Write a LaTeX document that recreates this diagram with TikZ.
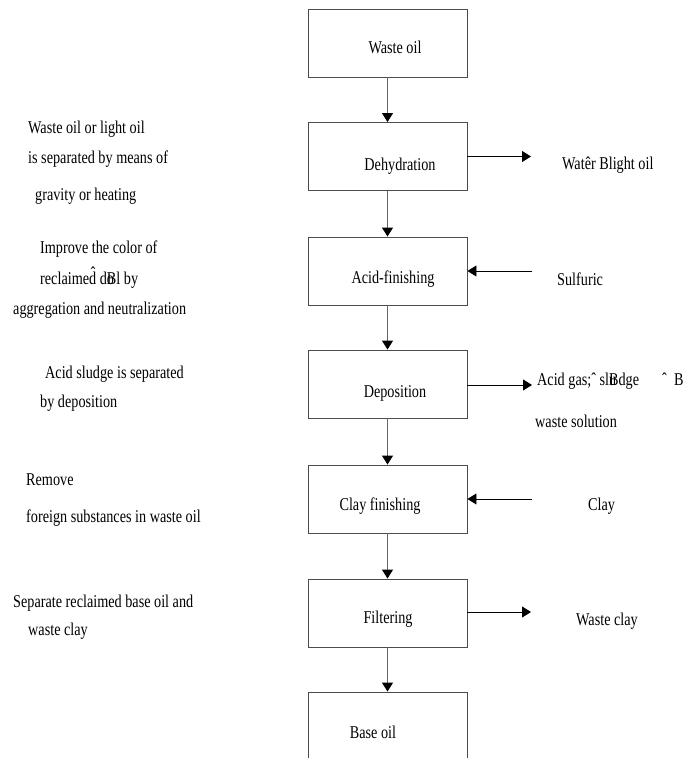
\documentclass[tikz,border=0pt]{standalone}
\usepackage{fontspec}
\setmainfont{Liberation Serif}[FakeStretch=0.79]
\usetikzlibrary{arrows.meta}
\begin{document}
\begin{tikzpicture}[x=1pt,y=-1pt,
  font=\fontsize{18}{21}\selectfont,
  stage/.style={draw=black!70, line width=0.9pt, minimum width=159pt, minimum height=68pt, inner sep=0pt},
  flow/.style={draw=black!60, line width=1pt, -{Triangle[length=9pt,width=11pt,color=black]}},
  side/.style={draw=black, line width=0.9pt, -{Triangle[length=9pt,width=11pt]}},
  lbl/.style={anchor=base, inner sep=0pt},
  note/.style={anchor=base west, inner sep=0pt}]
\clip (0,0) rectangle (686,758);
\fill[white] (0,0) rectangle (686,758);

% process boxes
\node[stage] (b1) at (387.5,43) {};
\node[stage] (b2) at (387.5,156.5) {};
\node[stage] (b3) at (387.5,271) {};
\node[stage] (b4) at (387.5,384) {};
\node[stage] (b5) at (387.5,499) {};
\node[stage] (b6) at (387.5,613) {};
\node[stage] (b7) at (387.5,726) {};

% box captions
\node[lbl] (t1) at (395,53) {Waste oil};
\node[lbl] (t2) at (400,170) {Dehydration};
\node[lbl] (t3) at (393,283) {Acid-finishing};
\node[lbl] (t4) at (395,397) {Deposition};
\node[lbl] (t5) at (380,510) {Clay finishing};
\node[lbl] (t6) at (388,623) {Filtering};
\node[lbl] (t7) at (373,738) {Base oil};

% main flow
\draw[flow] (b1) -- (b2);
\draw[flow] (b2) -- (b3);
\draw[flow] (b3) -- (b4);
\draw[flow] (b4) -- (b5);
\draw[flow] (b5) -- (b6);
\draw[flow] (b6) -- (b7);

% side streams
\coordinate (o2) at (531,156.5);
\coordinate (i3) at (532,271);
\coordinate (o4) at (532,385);
\coordinate (i5) at (532,499);
\coordinate (o6) at (531,612);
\draw[side] (b2.east) -- (o2);
\draw[side] (i3) -- (b3.east);
\draw[side] (b4.east |- o4) -- (o4);
\draw[side] (i5) -- (b5.east);
\draw[side] (b6.east |- o6) -- (o6);

% side stream labels
\node[note] (r2) at (562,169) {Wat\^er Blight oil};
\node[note] (r3) at (557,285) {Sulfuric};
\node[note] (r4) at (537,385) {Acid gas;ˆ sl\rlap{u}Bdge};
\node[note] (r4b) at (662,385) {ˆ\ \ B};
\node[note] (r4c) at (535,427) {waste solution};
\node[note] (r5) at (588,510) {Clay};
\node[note] (r6) at (576,625) {Waste clay};

% explanatory notes
\node[note] (n1) at (28,133) {Waste oil or light oil};
\node[note] (n2) at (28,163) {is separated by means of};
\node[note] (n3) at (35,200) {gravity or heating};
\node[note] (n4) at (40,253) {Improve the color of};
\node[note] (n5) at (40,284) {reclaime\^d d\rlap{o}Bl by};
\node[note] (n6) at (13,314) {aggregation and neutralization};
\node[note] (n7) at (45,378) {Acid sludge is separated};
\node[note] (n8) at (40,407) {by deposition};
\node[note] (n9) at (26,485) {Remove};
\node[note] (n10) at (26,522) {foreign substances in waste oil};
\node[note] (n11) at (13,607) {Separate reclaimed base oil and};
\node[note] (n12) at (28,635) {waste clay};
\end{tikzpicture}
\end{document}
